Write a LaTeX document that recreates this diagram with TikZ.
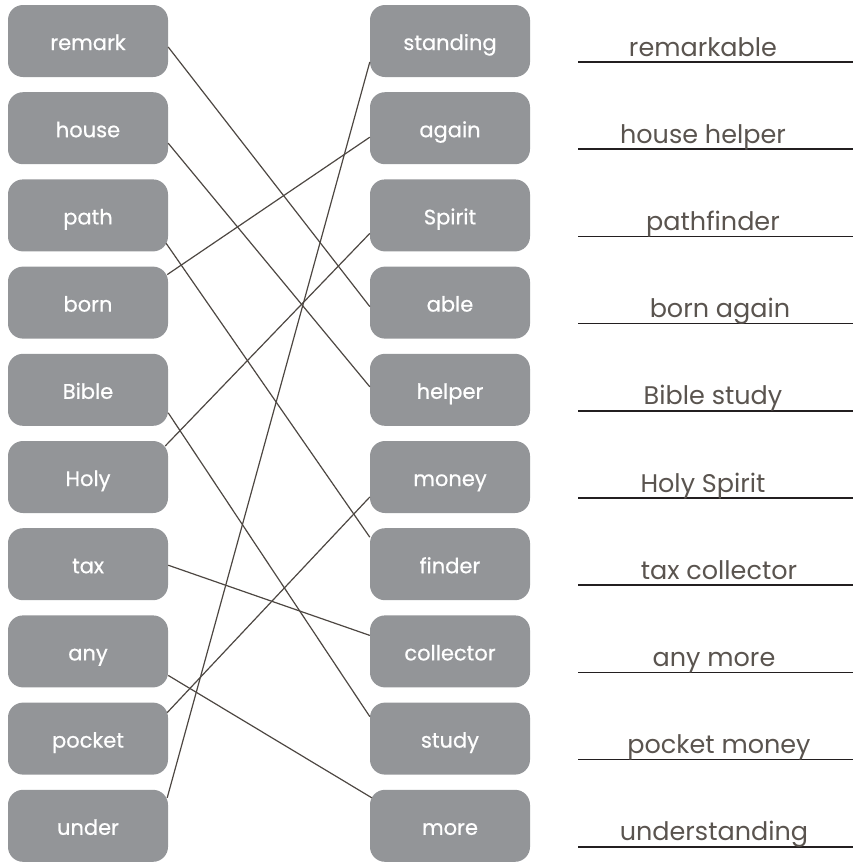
\documentclass[tikz,border=0pt]{standalone}
\usepackage{fontspec}
\setmainfont{Poppins}
\newfontfamily\boxfont{Poppins}[FakeBold=0.6]
\definecolor{boxgray}{HTML}{939598}
\definecolor{linkcol}{HTML}{4D4742}
\definecolor{anscol}{HTML}{5A544F}
\definecolor{rulecol}{HTML}{231F20}
\begin{document}
\begin{tikzpicture}[x=1pt,y=-1pt,
  wordbox/.style={fill=boxgray, rounded corners=15pt, minimum width=160pt, minimum height=72pt,
    inner sep=0pt, text=white, font=\boxfont\fontsize{21}{24}\selectfont, text height=18pt, text depth=0pt},
  link/.style={draw=linkcol, line width=1.2pt},
  ans/.style={text=anscol, font=\fontsize{25.5}{28}\selectfont, anchor=base, inner sep=0pt},
  rulel/.style={draw=rulecol, line width=1.6pt}]
\useasboundingbox (0,0) rectangle (854,863);
% left boxes
\foreach \n/\t [count=\i from 0] in {remark/remark,house/house,path/path,born/born,Bible/Bible,Holy/Holy,tax/tax,any/any,pocket/pocket,under/under}
  \node[wordbox] (\n) at (88,{41+87.2*\i}) {\t};
% right boxes
\foreach \n/\t [count=\i from 0] in {standing/standing,again/again,Spirit/Spirit,able/able,helper/helper,money/money,finder/finder,collector/collector,study/study,more/more}
  \node[wordbox] (\n) at (450,{41+87.2*\i}) {\t};
% connectors
\draw[link] ([yshift=-6pt]remark.east) -- ([yshift=-4pt]able.west);
\draw[link] ([yshift=-15pt]house.east) -- ([yshift=3pt]helper.west);
\draw[link] ([yshift=-28pt,xshift=-2pt]path.east) -- ([yshift=27pt]finder.west);
\draw[link] ([yshift=28pt,xshift=-1pt]born.east) -- ([yshift=-9pt]again.west);
\draw[link] ([yshift=-23pt]Bible.east) -- ([yshift=22pt]study.west);
\draw[link] ([yshift=31pt,xshift=-3pt]Holy.east) -- ([yshift=-18pt]Spirit.west);
\draw[link] ([yshift=-1pt]tax.east) -- ([yshift=16pt]collector.west);
\draw[link] ([yshift=-24pt]any.east) -- ([yshift=28pt,xshift=2pt]more.west);
\draw[link] ([yshift=26pt,xshift=-1pt]pocket.east) -- ([yshift=-20pt]money.west);
\draw[link] ([yshift=28pt,xshift=-1pt]under.east) -- ([yshift=-21pt]standing.west);
% answer lines
\foreach \t/\x [count=\i from 0] in {remarkable/703,house helper/703,pathfinder/713,born again/720,Bible study/713,Holy Spirit/703,tax collector/719,any more/714,pocket money/719,understanding/714}{
  \coordinate (ra\i) at (578,{62+87.2*\i});
  \coordinate (rb\i) at (853,{62+87.2*\i});
  \draw[rulel] (ra\i) -- (rb\i);
  \node[ans] (t\i) at (\x,{56+87.2*\i}) {\t};
}
\end{tikzpicture}
\end{document}
